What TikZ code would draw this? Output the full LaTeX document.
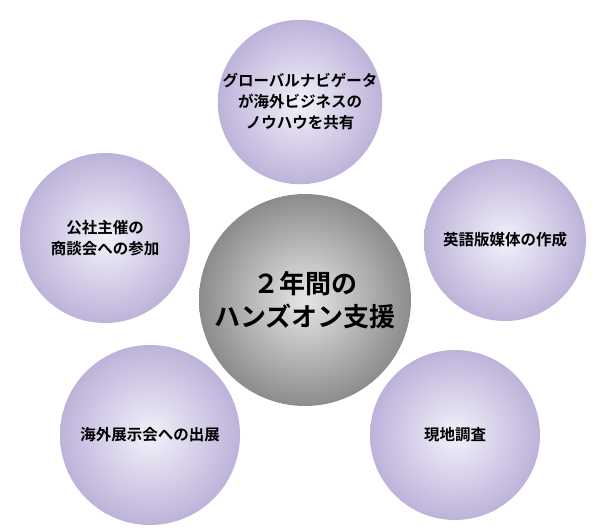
\documentclass[tikz,border=0pt]{standalone}
\usepackage{fontspec}
\newfontfamily\jp{Noto Sans CJK JP}[BoldFont={Noto Sans CJK JP Bold}]
\definecolor{lavin}{HTML}{F3F0F9}
\definecolor{lavout}{HTML}{BDB3DA}
\definecolor{grin}{HTML}{E6E6E6}
\definecolor{grout}{HTML}{8C8C8C}
\begin{document}
\begin{tikzpicture}[x=1pt,y=-1pt,
  sat/.style={circle,inner color=lavin,outer color=lavout,align=center,font=\jp\bfseries\fontsize{15.5}{21}\selectfont,text=black,inner sep=0pt},
  hub/.style={circle,inner color=grin,outer color=grout,align=center,font=\jp\bfseries\fontsize{26}{33}\selectfont,text=black,inner sep=0pt}]
\useasboundingbox (0,0) rectangle (600,530);
\node[hub,minimum size=212] (c) at (305,300) {２年間の\\ハンズオン支援};
\node[sat,minimum size=158] (t) at (300,102) {グローバルナビゲータ\\が海外ビジネスの\\ノウハウを共有};
\node[sat,minimum size=170] (lt) at (105,238) {公社主催の\\商談会への参加};
\node[sat,minimum size=162] (rt) at (505,240) {英語版媒体の作成};
\node[sat,minimum size=180] (lb) at (150,435) {海外展示会への出展};
\node[sat,minimum size=170] (rb) at (455,435) {現地調査};
\end{tikzpicture}
\end{document}
